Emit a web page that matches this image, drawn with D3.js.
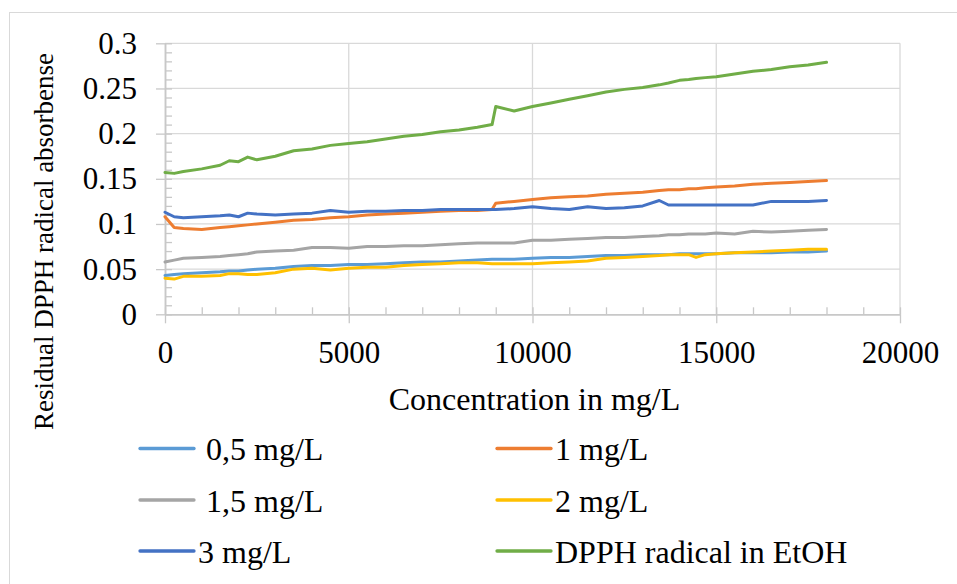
<!DOCTYPE html>
<html>
<head>
<meta charset="utf-8">
<script src="https://cdn.jsdelivr.net/npm/d3@7"></script>
<style>
  html, body { margin: 0; padding: 0; background: #fff; }
  svg { display: block; }
  text { font-family: "Liberation Serif", "Times New Roman", serif; fill: #000; }
</style>
</head>
<body>
<svg id="chart" width="957" height="584"></svg>
<script>
// ---- Data ----
const concentration = [0,250,500,1000,1500,1750,2000,2250,2500,3000,3500,4000,4500,5000,5500,6000,6500,7000,7500,8000,8500,8900,9000,9500,10000,10500,11000,11500,12000,12500,13000,13450,13700,14000,14250,14450,14700,15000,15500,16000,16500,17000,17500,18000];

const s05 = [0.043,0.044,0.045,0.046,0.047,0.048,0.048,0.049,0.050,0.051,0.053,0.054,0.054,0.055,0.055,0.056,0.057,0.058,0.058,0.059,0.060,0.061,0.061,0.061,0.062,0.063,0.063,0.064,0.065,0.065,0.066,0.066,0.066,0.067,0.067,0.067,0.067,0.067,0.068,0.068,0.068,0.069,0.069,0.070];
const s1 = [0.108,0.096,0.095,0.094,0.096,0.097,0.098,0.099,0.100,0.102,0.104,0.105,0.107,0.108,0.110,0.111,0.112,0.113,0.114,0.115,0.115,0.116,0.123,0.125,0.127,0.129,0.130,0.131,0.133,0.134,0.135,0.137,0.138,0.138,0.139,0.139,0.140,0.141,0.142,0.144,0.145,0.146,0.147,0.148];
const s15 = [0.058,0.060,0.062,0.063,0.064,0.065,0.066,0.067,0.069,0.070,0.071,0.074,0.074,0.073,0.075,0.075,0.076,0.076,0.077,0.078,0.079,0.079,0.079,0.079,0.082,0.082,0.083,0.084,0.085,0.085,0.086,0.087,0.088,0.088,0.089,0.089,0.089,0.090,0.089,0.092,0.091,0.092,0.093,0.094];
const s2 = [0.040,0.039,0.042,0.042,0.043,0.045,0.045,0.044,0.044,0.046,0.050,0.051,0.049,0.051,0.052,0.052,0.054,0.055,0.056,0.057,0.057,0.056,0.056,0.056,0.056,0.057,0.058,0.059,0.062,0.063,0.064,0.065,0.066,0.066,0.066,0.063,0.066,0.067,0.068,0.069,0.070,0.071,0.072,0.072];
const s3 = [0.113,0.108,0.107,0.108,0.109,0.110,0.108,0.112,0.111,0.110,0.111,0.112,0.115,0.113,0.114,0.114,0.115,0.115,0.116,0.116,0.116,0.116,0.116,0.117,0.119,0.117,0.116,0.119,0.117,0.118,0.120,0.126,0.121,0.121,0.121,0.121,0.121,0.121,0.121,0.121,0.125,0.125,0.125,0.126];
const sDPPH = [0.157,0.156,0.158,0.161,0.165,0.170,0.169,0.174,0.171,0.175,0.181,0.183,0.187,0.189,0.191,0.194,0.197,0.199,0.202,0.204,0.207,0.210,0.230,0.225,0.230,0.234,0.238,0.242,0.246,0.249,0.251,0.254,0.256,0.259,0.260,0.261,0.262,0.263,0.266,0.269,0.271,0.274,0.276,0.279];

const seriesNames = [" 0,5 mg/L", "1 mg/L", " 1,5 mg/L", "2 mg/L", "3 mg/L", "DPPH radical in EtOH"];
const seriesColors = ["#5B9BD5", "#ED7D31", "#A5A5A5", "#FFC000", "#4472C4", "#70AD47"];
const seriesValues = [s05, s1, s15, s2, s3, sDPPH];

const yTicks = [0, 0.05, 0.1, 0.15, 0.2, 0.25, 0.3];
const yTickLabels = ["0", "0.05", "0.1", "0.15", "0.2", "0.25", "0.3"];
const yMinorTicks = d3.range(0, 0.3001, 0.01);
const xTicks = [0, 5000, 10000, 15000, 20000];
const xTickLabels = ["0", "5000", "10000", "15000", "20000"];
const xMinorTicks = d3.range(0, 20001, 1000);

const xTitle = "Concentration in mg/L";
const yTitle = "Residual DPPH radical absorbense";

// ---- Layout ----
const svg = d3.select("#chart");
const plot = { left: 165, right: 900, top: 43.3, bottom: 314.3 };

const x = d3.scaleLinear().domain([0, 20000]).range([plot.left, plot.right]);
const y = d3.scaleLinear().domain([0, 0.3]).range([plot.bottom, plot.top]);

// chart area border
svg.append("rect")
  .attr("x", 9.5).attr("y", 12.5).attr("width", 1200).attr("height", 1200)
  .attr("fill", "none").attr("stroke", "#d9d9d9").attr("stroke-width", 1);

const gridColor = "#d9d9d9";
const axisColor = "#c8c8c8";

// horizontal gridlines
svg.append("g").selectAll("line").data(yTicks.slice(1)).join("line")
  .attr("x1", plot.left).attr("x2", plot.right)
  .attr("y1", d => y(d)).attr("y2", d => y(d))
  .attr("stroke", gridColor).attr("stroke-width", 1.3);

// vertical gridlines
svg.append("g").selectAll("line").data(xTicks.slice(1)).join("line")
  .attr("x1", d => x(d)).attr("x2", d => x(d))
  .attr("y1", plot.top).attr("y2", plot.bottom)
  .attr("stroke", gridColor).attr("stroke-width", 1.3);

// minor ticks (inside)
const yMinorAxis = svg.append("g").attr("transform", `translate(${plot.left},0)`)
  .call(d3.axisLeft(y).tickValues(yMinorTicks).tickSize(-7).tickSizeOuter(0).tickFormat(""));
const xMinorAxis = svg.append("g").attr("transform", `translate(0,${plot.bottom})`)
  .call(d3.axisBottom(x).tickValues(xMinorTicks).tickSize(-7).tickSizeOuter(0).tickFormat(""));

// major axes
const yAxis = svg.append("g").attr("transform", `translate(${plot.left},0)`)
  .call(d3.axisLeft(y).tickValues(yTicks).tickSize(9).tickSizeOuter(0)
    .tickFormat((d, i) => yTickLabels[i]).tickPadding(19));
const xAxis = svg.append("g").attr("transform", `translate(0,${plot.bottom})`)
  .call(d3.axisBottom(x).tickValues(xTicks).tickSize(9).tickSizeOuter(0)
    .tickFormat((d, i) => xTickLabels[i]));

[yMinorAxis, xMinorAxis, yAxis, xAxis].forEach(g => {
  g.selectAll("path.domain").attr("stroke", axisColor).attr("stroke-width", 1.5);
  g.selectAll(".tick line").attr("stroke", axisColor).attr("stroke-width", 1.3);
  g.selectAll("text").style("font-family", '"Liberation Serif", serif').attr("fill", "#000");
});
yAxis.selectAll("text").style("font-size", "31px").attr("dy", "10px").attr("x", -28);
xAxis.selectAll("text").style("font-size", "31px").attr("dy", null).attr("y", 48.5);

// series lines
const line = d3.line().x((d, i) => x(concentration[i])).y(d => y(d));
svg.append("g").selectAll("path").data(seriesValues).join("path")
  .attr("d", d => line(d))
  .attr("fill", "none")
  .attr("stroke", (d, i) => seriesColors[i])
  .attr("stroke-width", 3)
  .attr("stroke-linejoin", "round")
  .attr("stroke-linecap", "round");

// axis titles
svg.append("text")
  .attr("x", (plot.left + plot.right) / 2 + 2).attr("y", 410)
  .attr("text-anchor", "middle").style("font-size", "32px")
  .text(xTitle);
svg.append("text")
  .attr("transform", `translate(53,241.5) rotate(-90)`)
  .attr("text-anchor", "middle").style("font-size", "27px")
  .text(yTitle);

// legend
const legendCols = [140, 497];
const legendRows = [448.5, 500, 551];
const legend = svg.append("g").selectAll("g").data(seriesNames).join("g")
  .attr("transform", (d, i) => `translate(${legendCols[i % 2]},${legendRows[Math.floor(i / 2)]})`);
legend.append("line")
  .attr("x1", 0).attr("x2", 54).attr("y1", 0).attr("y2", 0)
  .attr("stroke", (d, i) => seriesColors[i]).attr("stroke-width", 3.3)
  .attr("stroke-linecap", "round");
legend.append("text")
  .attr("x", 58)
  .attr("y", 11.5)
  .attr("xml:space", "preserve")
  .style("white-space", "pre")
  .style("font-size", "32px")
  .text(d => d);
</script>
</body>
</html>
